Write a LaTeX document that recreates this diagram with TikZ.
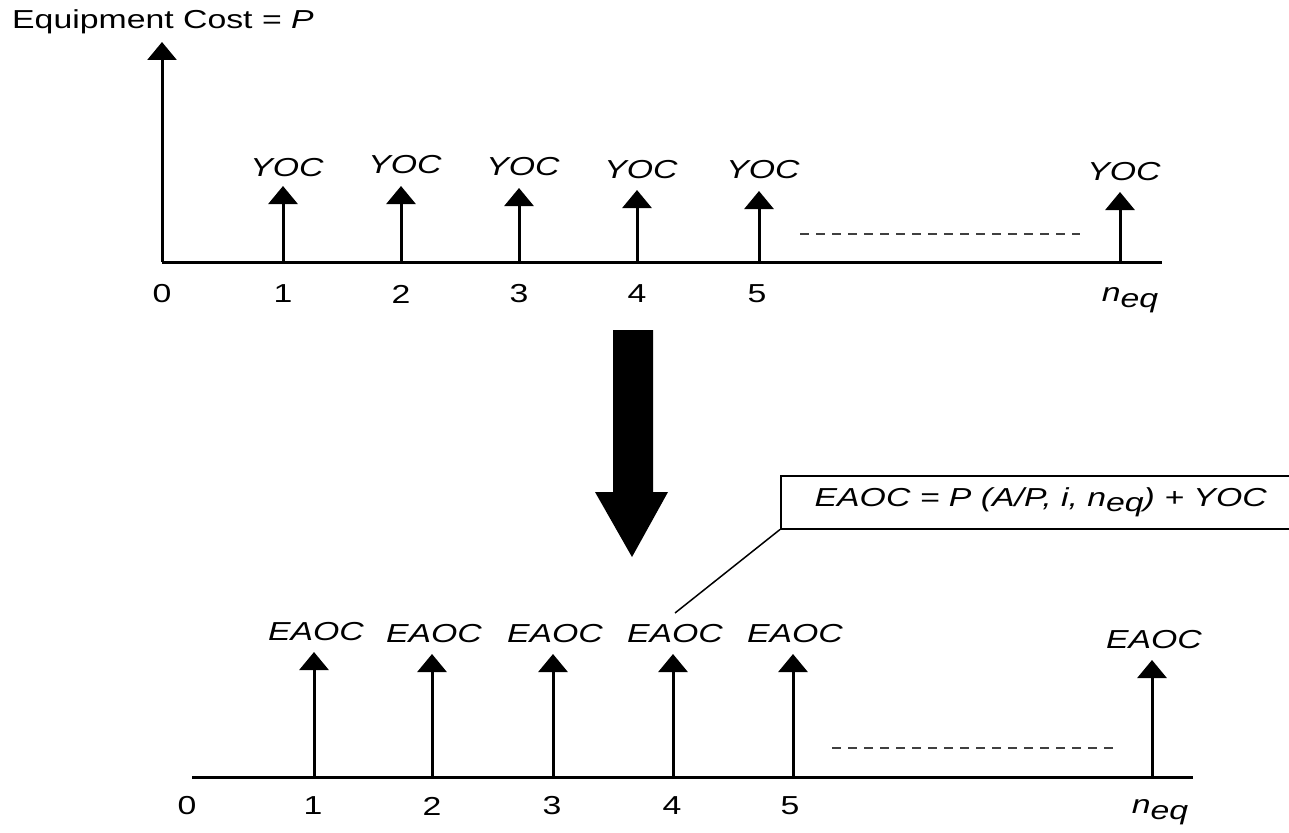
\documentclass[tikz,border=0pt]{standalone}
\usepackage{fontspec}
\setmainfont{Liberation Sans}
\usetikzlibrary{arrows.meta}
\newcommand{\hs}[1]{\scalebox{1.3}[1]{#1}}
\newcommand{\neqsub}{\textit{n\raisebox{-0.4ex}{eq}}}
\begin{document}
\begin{tikzpicture}[x=1pt,y=-1pt,
  lbl/.style={font=\fontsize{26}{30}\selectfont, inner sep=0pt},
  axisline/.style={line width=3pt},
  flow/.style={line width=3pt, -{Triangle[width=29pt,length=18pt]}},
  dashline/.style={line width=1.5pt, dash pattern=on 9pt off 7pt, black!75},
  callout/.style={line width=1.5pt},
]
\useasboundingbox (0,0) rectangle (1289,832);
\clip (0,0) rectangle (1289,832);

% ---------- top cash flow ----------
\node[lbl, anchor=west] (title) at (12,22) {\hs{Equipment Cost = \textit{P}}};
\coordinate (t0) at (162,262);
\coordinate (tend) at (1162,262);
\coordinate (tP) at (162,42);
\draw[axisline] (t0) -- (tend);
\draw[flow] (t0) -- (tP);

\foreach \n/\x/\tip/\ly in {1/283/186/168, 2/401/186/165, 3/519/188/167, 4/637/190/170, 5/759/191/170, 6/1120/192/172}{
  \coordinate (tb\n) at (\x,262);
  \coordinate (tt\n) at (\x,\tip);
  \draw[flow] (tb\n) -- (tt\n);
  \node[lbl] (ty\n) at (\x+4,\ly) {\hs{\textit{YOC}}};
}
\foreach \n/\x in {0/162, 1/283, 2/401, 3/519, 4/637, 5/757}{
  \node[lbl] (tn\n) at (\x,294) {\hs{\n}};
}
\node[lbl] (tneq) at (1130,300) {\hs{\neqsub}};
\coordinate (td1) at (800,234);
\coordinate (td2) at (1080,234);
\draw[dashline] (td1) -- (td2);

% ---------- big arrow ----------
\fill (613,330) -- (653,330) -- (653,492) -- (668,492) -- (632,557) -- (595,492) -- (613,492) -- cycle;

% ---------- formula ----------
\node[lbl, draw, callout, anchor=north west, minimum width=520pt, minimum height=53pt] (formula) at (780,475)
  {\hs{\textit{EAOC = P (A/P, i, }\neqsub\textit{) + YOC}}};
\coordinate (cend) at (675,613);
\draw[callout] (formula.south west) -- (cend);

% ---------- bottom cash flow ----------
\coordinate (b0) at (192,777);
\coordinate (bend) at (1193,777);
\draw[axisline] (b0) -- (bend);
\foreach \n/\x/\tip/\ly in {1/314/652/632, 2/432/654/634, 3/553/654/634, 4/673/654/634, 5/793/654/634, 6/1152/660/640}{
  \coordinate (bb\n) at (\x,777);
  \coordinate (bt\n) at (\x,\tip);
  \draw[flow] (bb\n) -- (bt\n);
  \node[lbl] (be\n) at (\x+2,\ly) {\hs{\textit{EAOC}}};
}
\foreach \n/\x in {0/187, 1/313, 2/432, 3/552, 4/672, 5/790}{
  \node[lbl] (bn\n) at (\x,806) {\hs{\n}};
}
\node[lbl] (bneq) at (1160,812) {\hs{\neqsub}};
\coordinate (bd1) at (832,748);
\coordinate (bd2) at (1113,748);
\draw[dashline] (bd1) -- (bd2);
\end{tikzpicture}
\end{document}
